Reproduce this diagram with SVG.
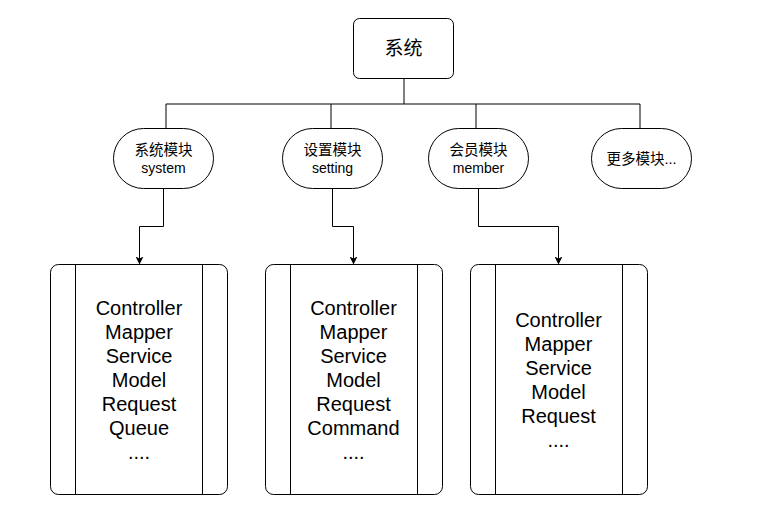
<svg xmlns="http://www.w3.org/2000/svg" width="763" height="531" viewBox="0 0 763 531">
<style>
.box{fill:#fff;stroke:#000;stroke-width:1}
.t{font-family:"Liberation Sans","Noto Sans CJK SC",Arial,sans-serif;fill:#000;text-anchor:middle}
.cn{font-size:14.5px}
.en{font-size:14px}
.big{font-size:20px}
.ln{fill:none;stroke:#000;stroke-width:1}
</style>
<defs>
<marker id="arr" viewBox="0 0 8 8" refX="7" refY="4" markerWidth="8" markerHeight="8" markerUnits="userSpaceOnUse" orient="auto">
<path d="M0,0 L8,4 L0,8 L2,4 Z" fill="#000"/>
</marker>
</defs>
<rect width="763" height="531" fill="#fff"/>
<g id="connectors">
<path class="ln" d="M404,78.5 V104"/>
<path class="ln" d="M166,104 H640"/>
<path class="ln" d="M166,104 V128.5"/>
<path class="ln" d="M331,104 V128.5"/>
<path class="ln" d="M476,104 V128.5"/>
<path class="ln" d="M640,104 V128.5"/>
<path class="ln" d="M163.5,188.5 V226.5 H139.5 V263.5" marker-end="url(#arr)"/>
<path class="ln" d="M332.5,188.5 V226.5 H353.5 V263.5" marker-end="url(#arr)"/>
<path class="ln" d="M478.5,188.5 V226.5 H558.5 V263.5" marker-end="url(#arr)"/>
</g>
<g id="root">
<rect class="box" x="353.5" y="18.5" width="100" height="60" rx="6"/>
<text class="t" x="403.5" y="55" font-size="19">系统</text>
</g>
<g id="m-system">
<rect class="box" x="113.5" y="128.5" width="100" height="60" rx="30"/>
<text class="t cn" x="163.5" y="155">系统模块</text>
<text class="t en" x="163.5" y="173">system</text>
</g>
<g id="m-setting">
<rect class="box" x="282.5" y="128.5" width="100" height="60" rx="30"/>
<text class="t cn" x="332.5" y="155">设置模块</text>
<text class="t en" x="332.5" y="173">setting</text>
</g>
<g id="m-member">
<rect class="box" x="428.5" y="128.5" width="100" height="60" rx="30"/>
<text class="t cn" x="478.5" y="155">会员模块</text>
<text class="t en" x="478.5" y="173">member</text>
</g>
<g id="m-more">
<rect class="box" x="591.5" y="128.5" width="100" height="60" rx="30"/>
<text class="t cn" x="641.5" y="164">更多模块...</text>
</g>
<g id="p-system">
<rect class="box" x="50.5" y="264.5" width="177" height="230" rx="8"/>
<path class="ln" d="M75.5,264.5 V494.5 M202.5,264.5 V494.5"/>
<text class="t big" x="139" y="315">Controller</text>
<text class="t big" x="139" y="339">Mapper</text>
<text class="t big" x="139" y="363">Service</text>
<text class="t big" x="139" y="387">Model</text>
<text class="t big" x="139" y="411">Request</text>
<text class="t big" x="139" y="435">Queue</text>
<text class="t big" x="139" y="459">....</text>
</g>
<g id="p-setting">
<rect class="box" x="265.5" y="264.5" width="177" height="230" rx="8"/>
<path class="ln" d="M290.5,264.5 V494.5 M417.5,264.5 V494.5"/>
<text class="t big" x="353.5" y="315">Controller</text>
<text class="t big" x="353.5" y="339">Mapper</text>
<text class="t big" x="353.5" y="363">Service</text>
<text class="t big" x="353.5" y="387">Model</text>
<text class="t big" x="353.5" y="411">Request</text>
<text class="t big" x="353.5" y="435">Command</text>
<text class="t big" x="353.5" y="459">....</text>
</g>
<g id="p-member">
<rect class="box" x="470.5" y="264.5" width="177" height="230" rx="8"/>
<path class="ln" d="M495.5,264.5 V494.5 M622.5,264.5 V494.5"/>
<text class="t big" x="558.5" y="327">Controller</text>
<text class="t big" x="558.5" y="351">Mapper</text>
<text class="t big" x="558.5" y="375">Service</text>
<text class="t big" x="558.5" y="399">Model</text>
<text class="t big" x="558.5" y="423">Request</text>
<text class="t big" x="558.5" y="447">....</text>
</g>
</svg>
